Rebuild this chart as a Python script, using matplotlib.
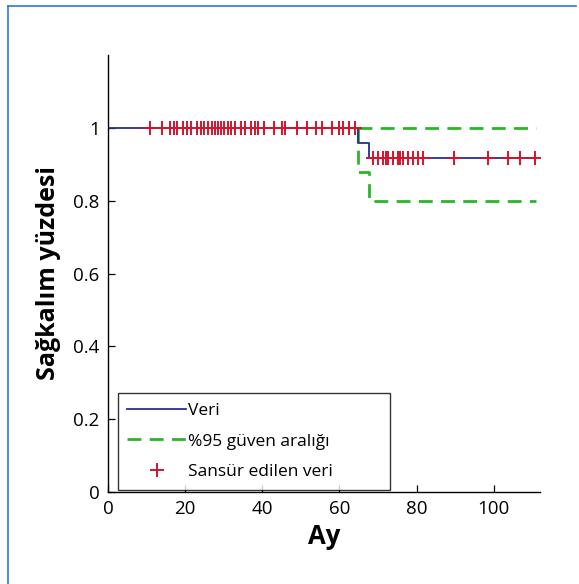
import matplotlib
matplotlib.use("Agg")
import matplotlib.pyplot as plt
from matplotlib.lines import Line2D
import numpy as np

plt.rcParams['font.family'] = ['Open Sans', 'DejaVu Sans']

# Kaplan-Meier step data
km_times = [0, 64.7, 67.8, 111]
km_surv = [1.0, 0.958, 0.916, 0.916]

# 95% confidence band (shown from first event)
ci_times = [64.7, 64.7, 67.8, 111]
ci_upper = [1.0, 1.0, 1.0, 1.0]
ci_lower = [1.0, 0.878, 0.80, 0.80]

# Censored observations
cens_before = [11, 14, 16, 17, 18, 19.5, 20.5, 21.5, 23, 24, 25, 26, 27, 27.7,
               28.5, 29.3, 30, 31, 32, 33, 34.5, 35.5, 37, 38, 39, 40.5, 43,
               45, 46, 49, 51.5, 54, 55.5, 58, 60, 61, 62.5, 64]
cens_after = [68.8, 70.1, 71.2, 72.2, 72.7, 73.8, 75.1, 75.8, 76.6, 77.9,
              79.2, 80.5, 81.8, 89.6, 98.4, 103.6, 106.8, 110.6]

xticks = [0, 20, 40, 60, 80, 100]
yticks = [0, 0.2, 0.4, 0.6, 0.8, 1]
ytick_labels = ['0', '0.2', '0.4', '0.6', '0.8', '1']

blue = '#262c9a'
green = '#2cb52c'
red = '#d3142c'
dash = (0, (5, 3))

fig = plt.figure(figsize=(5.79, 5.84), dpi=100)
ax = fig.add_axes([0.1865, 0.1575, 0.7461, 0.7483])

ax.step(ci_times, ci_upper, where='post', color=green, lw=2.0, ls=dash)
ax.step(ci_times, ci_lower, where='post', color=green, lw=2.0, ls=dash)
ax.step(km_times, km_surv, where='post', color=blue, lw=1.3)

def surv_at(t):
    s = km_surv[0]
    for tt, ss in zip(km_times, km_surv):
        if t >= tt:
            s = ss
    return s

ct = cens_before + cens_after
cs = [surv_at(t) for t in ct]
ax.plot(ct, cs, ls='none', marker='+', color=red, ms=10, mew=1.4)

ax.set_xlim(0, 112)
ax.set_ylim(0, 1.2)
ax.set_xticks(xticks)
ax.set_yticks(yticks)
ax.set_yticklabels(ytick_labels)
ax.tick_params(direction='in', labelsize=13.5, length=5, width=0.9, pad=6)
for s in ['top', 'right']:
    ax.spines[s].set_visible(False)
for s in ['left', 'bottom']:
    ax.spines[s].set_linewidth(1.0)

ax.set_xlabel('Ay', fontsize=18.5, fontweight='bold', labelpad=3)
ax.set_ylabel('Sağkalım yüzdesi', fontsize=18, fontweight='bold', labelpad=9)

handles = [Line2D([], [], color=blue, lw=1.3),
           Line2D([], [], color=green, lw=2.0, ls=dash),
           Line2D([], [], color=red, ls='none', marker='+', ms=10, mew=1.4)]
leg = ax.legend(handles, ['Veri', '%95 güven aralığı', 'Sansür edilen veri'],
                loc='lower left', bbox_to_anchor=(0.023, 0.0046, 0.63, 0.229),
                mode='expand', fontsize=12.5,
                frameon=True, fancybox=False, edgecolor='black',
                handlelength=3.4, handletextpad=0.1, borderpad=0.55,
                labelspacing=0.85, borderaxespad=0)
leg.get_frame().set_linewidth(1.0)

# figure border (blue frame)
fig.add_artist(Line2D([0.0138, 0.0138], [0, 0.99], color='#2a7cc4', lw=1.2, transform=fig.transFigure))
fig.add_artist(Line2D([0.0138, 0.995], [0.99, 0.99], color='#2a7cc4', lw=1.2, transform=fig.transFigure))

fig.savefig('out.png', dpi=100)
